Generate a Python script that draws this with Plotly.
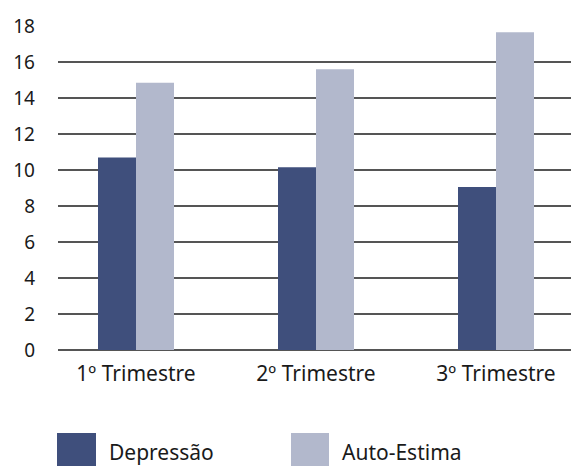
import plotly.graph_objects as go

categories = ["1º Trimestre", "2º Trimestre", "3º Trimestre"]
depressao = [10.7, 10.15, 9.05]
auto_estima = [14.85, 15.6, 17.65]
y_ticks = [0, 2, 4, 6, 8, 10, 12, 14, 16, 18]
series_names = ["Depressão", "Auto-Estima"]

DARK = "#3f4f7c"
LIGHT = "#b2b8cc"
FONT = "Noto Sans"
TXT = "#1a1a1a"

W, H = 571, 466
L, R, T, B = 58, 0, 26, 116
pw, ph = W - L - R, H - T - B

fig = go.Figure()
fig.add_trace(go.Bar(x=[0, 1, 2], y=depressao, name=series_names[0],
                     marker=dict(color=DARK, line=dict(width=0))))
fig.add_trace(go.Bar(x=[0, 1, 2], y=auto_estima, name=series_names[1],
                     marker=dict(color=LIGHT, line=dict(width=0))))

# x range: category spacing 180 px, first center at x=136
x0 = (58 - 136) / 180.0
x1 = x0 + pw / 180.0

def px_x(p):
    return (p - L) / pw

def px_y(p):
    return (H - B - p) / ph

shapes = []
annotations = []
legend_items = [(57, 96, 107, series_names[0], DARK), (291, 329, 340, series_names[1], LIGHT)]
for sx0, sx1, tx, name, col in legend_items:
    shapes.append(dict(type="rect", xref="paper", yref="paper",
                       x0=px_x(sx0), x1=px_x(sx1), y0=px_y(471), y1=px_y(433),
                       fillcolor=col, line=dict(width=0), layer="above"))
    annotations.append(dict(xref="paper", yref="paper", x=px_x(tx), y=px_y(452),
                            text=name, showarrow=False, xanchor="left", yanchor="middle",
                            font=dict(family=FONT, size=21, color=TXT)))

fig.update_layout(
    width=W, height=H,
    margin=dict(l=L, r=R, t=T, b=B, pad=0),
    paper_bgcolor="white", plot_bgcolor="white",
    barmode="group", bargap=1 - 76 / 180.0, bargroupgap=0,
    showlegend=False,
    shapes=shapes, annotations=annotations,
    xaxis=dict(range=[x0, x1], tickmode="array", tickvals=[0, 1, 2], ticktext=categories,
               showgrid=False, zeroline=False, showline=False, ticks="",
               tickfont=dict(family=FONT, size=21, color=TXT), ticklabelstandoff=9),
    yaxis=dict(range=[0, 18], tickmode="array", tickvals=y_ticks,
               ticktext=[str(v) for v in y_ticks],
               showgrid=True, gridcolor="#555555", gridwidth=1.5,
               zeroline=True, zerolinecolor="#555555", zerolinewidth=1.5,
               showline=False, ticks="",
               tickfont=dict(family=FONT, size=19, color=TXT), ticklabelstandoff=22),
)

fig.write_html("out.html")
